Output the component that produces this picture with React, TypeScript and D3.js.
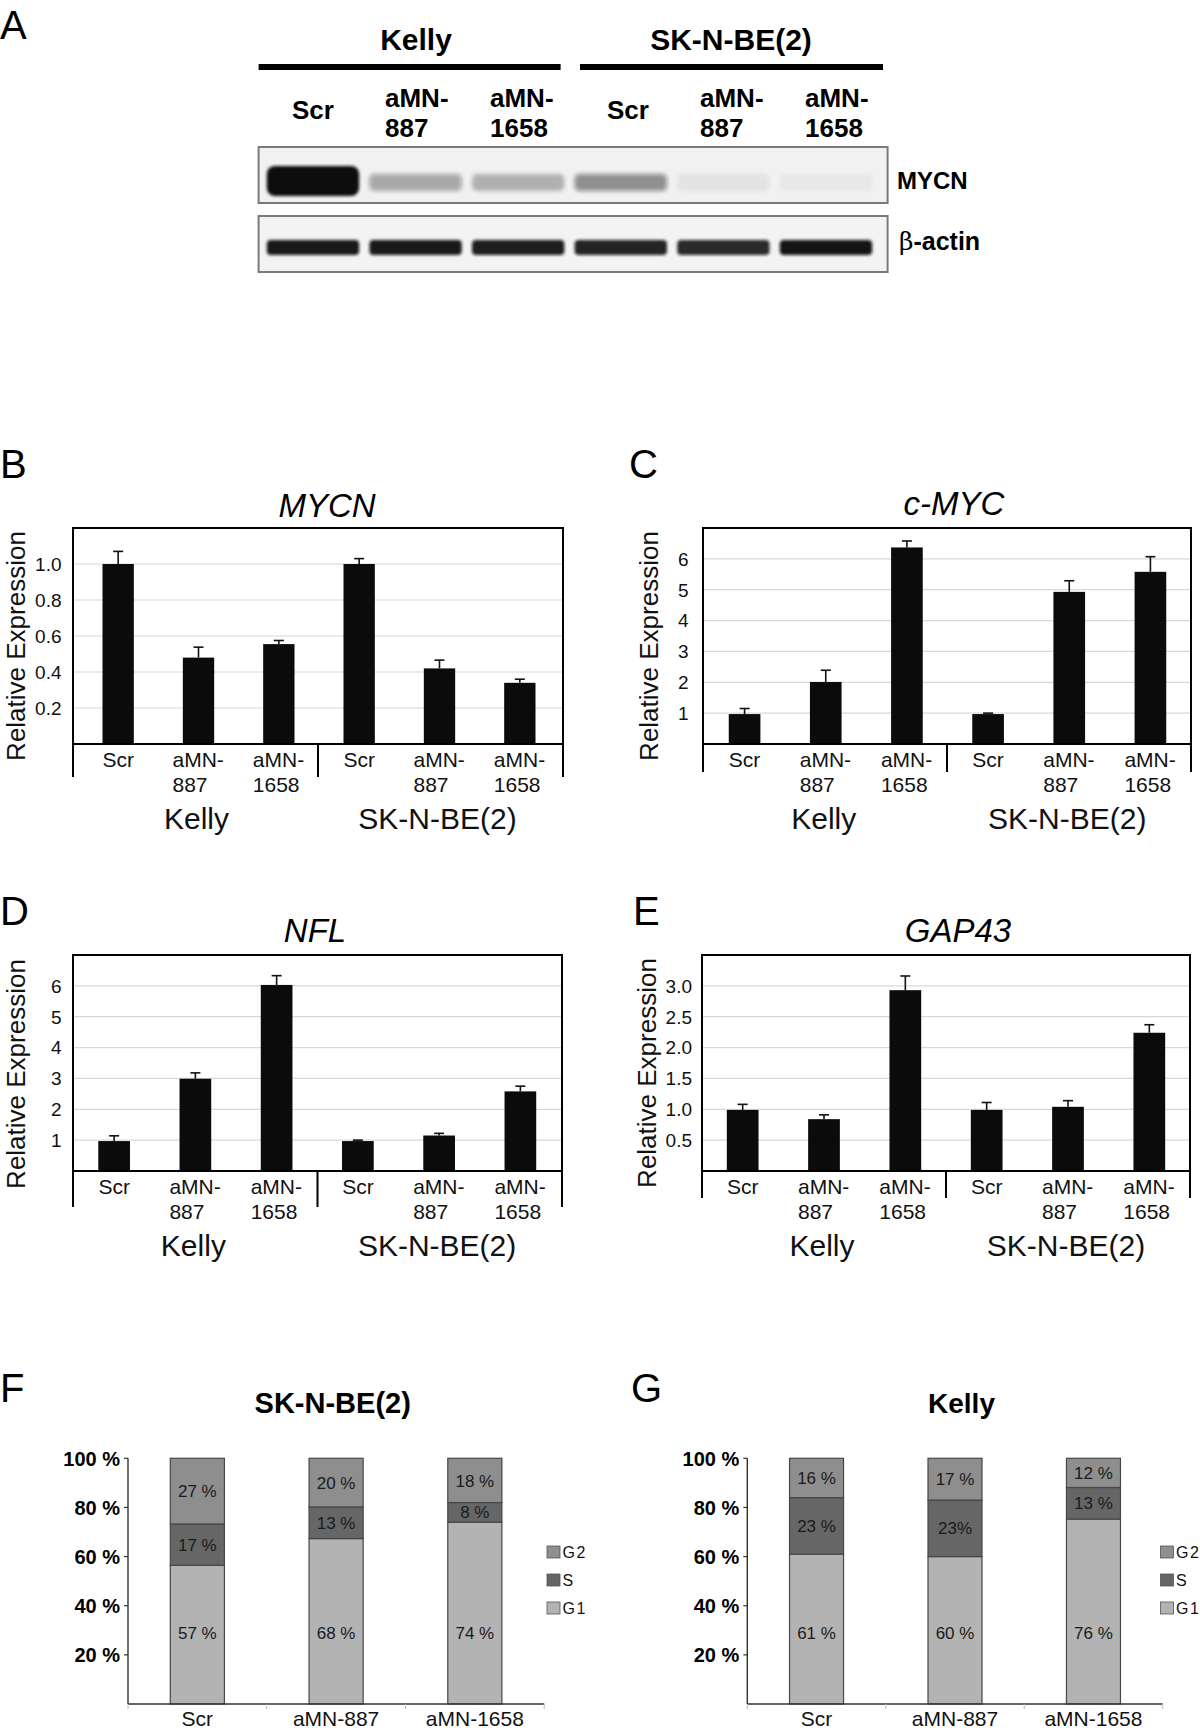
import React from "react";
import * as d3 from "d3";

const FONT = "'Liberation Sans', Arial, Helvetica, sans-serif";

// ---------- data ----------
const lanes = ["Scr", "aMN-887", "aMN-1658", "Scr", "aMN-887", "aMN-1658"];
const cellLines = ["Kelly", "SK-N-BE(2)"];
const mycnBand = [1.0, 0.34, 0.27, 0.45, 0.06, 0.04];
const actinBand = [0.95, 0.95, 0.93, 0.9, 0.88, 0.97];

const mycnMean = [1.0, 0.48, 0.555, 1.0, 0.42, 0.34];
const mycnErr = [0.07, 0.058, 0.02, 0.03, 0.046, 0.02];
const cmycMean = [0.97, 2.01, 6.37, 0.97, 4.93, 5.58];
const cmycErr = [0.18, 0.38, 0.21, 0.03, 0.36, 0.49];
const nflMean = [0.97, 2.99, 6.03, 0.97, 1.15, 2.58];
const nflErr = [0.17, 0.19, 0.3, 0.03, 0.07, 0.17];
const gap43Mean = [0.99, 0.84, 2.93, 0.99, 1.04, 2.24];
const gap43Err = [0.09, 0.07, 0.23, 0.12, 0.1, 0.13];

const mycnTicks = [0.2, 0.4, 0.6, 0.8, 1.0];
const cmycTicks = [1, 2, 3, 4, 5, 6];
const nflTicks = [1, 2, 3, 4, 5, 6];
const gap43Ticks = [0.5, 1.0, 1.5, 2.0, 2.5, 3.0];

const phaseKeys = ["G1", "S", "G2"];
const legendKeys = ["G2", "S", "G1"];
const cycleCats = ["Scr", "aMN-887", "aMN-1658"];
const skG1 = [57, 68, 74];
const skS = [17, 13, 8];
const skG2 = [27, 20, 18];
const kellyG1 = [61, 60, 76];
const kellyS = [23, 23, 13];
const kellyG2 = [16, 17, 12];
const kellySLabels = ["23 %", "23%", "13 %"];
const cycleTicks = [20, 40, 60, 80, 100];

const phaseColor: Record<string, string> = { G1: "#b3b3b3", S: "#666666", G2: "#8e8e8e" };

// ---------- blot (panel A) ----------
function Blot() {
  const lx = d3.scaleBand<number>().domain(d3.range(6)).range([262.7, 878.3]);
  const labX = d3.scaleBand<number>().domain(d3.range(6)).range([260.5, 890.5]);
  const intensity = d3.scaleLinear().domain([0, 1]).range([0, 1]);
  return (
    <g>
      <defs>
        <filter id="blur2" x="-20%" y="-50%" width="140%" height="200%">
          <feGaussianBlur stdDeviation="2.2" />
        </filter>
        <filter id="blur1" x="-20%" y="-50%" width="140%" height="200%">
          <feGaussianBlur stdDeviation="1.4" />
        </filter>
      </defs>
      <text x={0} y={39} fontSize={40} fontFamily={FONT}>A</text>
      {cellLines.map((c, gi) => (
        <g key={c}>
          <rect x={gi === 0 ? 258.6 : 580} y={64} width={gi === 0 ? 302 : 303} height={6} fill="#000" />
          <text x={(labX(gi * 3 + 1)! + labX.bandwidth() / 2) - 2} y={50} fontSize={30} fontWeight="bold" textAnchor="middle" fontFamily={FONT}>{c}</text>
        </g>
      ))}
      {lanes.map((l, i) => {
        const cx = labX(i)! + labX.bandwidth() / 2;
        const parts = l.includes("-") ? [l.split("-")[0] + "-", l.split("-")[1]] : [l];
        if (parts.length === 1)
          return <text key={i} x={cx} y={119} fontSize={26} fontWeight="bold" textAnchor="middle" fontFamily={FONT}>{l}</text>;
        return (
          <text key={i} x={cx - 33} y={107} fontSize={26} fontWeight="bold" fontFamily={FONT}>
            <tspan x={cx - 33}>{parts[0]}</tspan>
            <tspan x={cx - 33} dy={30}>{parts[1]}</tspan>
          </text>
        );
      })}
      {/* MYCN box */}
      <rect x={258.6} y={147} width={629} height={56} fill="#f1f1f1" stroke="#7a7a7a" strokeWidth={2} />
      {mycnBand.map((v, i) => {
        const x = lx(i)! + lx.bandwidth() * 0.04;
        const w = lx.bandwidth() * 0.9;
        const big = v > 0.8;
        return (
          <rect key={i} x={x} y={big ? 166 : 174} width={w} height={big ? 30 : 17} rx={big ? 8 : 5}
            fill="#111" fillOpacity={intensity(v)} filter={big ? "url(#blur1)" : "url(#blur2)"} />
        );
      })}
      <text x={897} y={189} fontSize={24} fontWeight="bold" fontFamily={FONT}>MYCN</text>
      {/* actin box */}
      <rect x={258.6} y={216} width={629} height={56} fill="#f3f3f3" stroke="#7a7a7a" strokeWidth={2} />
      {actinBand.map((v, i) => {
        const x = lx(i)! + lx.bandwidth() * 0.04;
        const w = lx.bandwidth() * 0.9;
        return (
          <rect key={i} x={x} y={240} width={w} height={15} rx={4}
            fill="#111" fillOpacity={intensity(v)} filter="url(#blur1)" />
        );
      })}
      <text x={899} y={250} fontSize={25} fontWeight="bold" fontFamily={FONT}>
        <tspan fontFamily="'DejaVu Serif', serif" fontWeight="normal">β</tspan>-actin
      </text>
    </g>
  );
}

// ---------- bar chart (panels B-E) ----------
type BarProps = {
  letter: string; letterX: number; letterY: number;
  title: string; titleX: number; titleY: number;
  frameL: number; frameR: number; top: number; axis: number; bottom: number;
  barRange: [number, number]; yMax: number; ticks: number[]; fmt: (v: number) => string;
  tickRight: number; ylabelX: number; ylabelCY: number;
  means: number[]; errs: number[];
};

function BarPanel(p: BarProps) {
  const x = d3.scaleBand<number>().domain(d3.range(lanes.length)).range(p.barRange).paddingInner(0.61).paddingOuter(0.305);
  const y = d3.scaleLinear().domain([0, p.yMax]).range([p.axis, p.top]);
  const cx = (i: number) => x(i)! + x.bandwidth() / 2;
  const mid = (p.frameL + p.frameR) / 2;
  return (
    <g fontFamily={FONT}>
      <text x={p.letterX} y={p.letterY} fontSize={40}>{p.letter}</text>
      <text x={p.titleX} y={p.titleY} fontSize={33} fontStyle="italic" textAnchor="middle">{p.title}</text>
      {p.ticks.map((t) => (
        <g key={t}>
          <line x1={p.frameL} x2={p.frameR} y1={y(t)} y2={y(t)} stroke="#d8d8d8" strokeWidth={1.2} />
          <text x={p.tickRight} y={y(t)} dy="0.36em" fontSize={19} textAnchor="end" fill="#111">{p.fmt(t)}</text>
        </g>
      ))}
      {p.means.map((m, i) => (
        <g key={i}>
          <rect x={x(i)} y={y(m)} width={x.bandwidth()} height={p.axis - y(m)} fill="#0b0b0b" />
          <line x1={cx(i)} x2={cx(i)} y1={y(m)} y2={y(m + p.errs[i])} stroke="#111" strokeWidth={1.6} />
          <line x1={cx(i) - 5} x2={cx(i) + 5} y1={y(m + p.errs[i])} y2={y(m + p.errs[i])} stroke="#111" strokeWidth={1.6} />
        </g>
      ))}
      {/* frame */}
      <path d={`M${p.frameL},${p.bottom}V${p.top}H${p.frameR}V${p.bottom}`} fill="none" stroke="#000" strokeWidth={2} />
      <line x1={p.frameL} x2={p.frameR} y1={p.axis} y2={p.axis} stroke="#000" strokeWidth={2.2} />
      <line x1={mid} x2={mid} y1={p.axis} y2={p.bottom} stroke="#000" strokeWidth={2} />
      <text transform={`translate(${p.ylabelX},${p.ylabelCY}) rotate(-90)`} fontSize={26} textAnchor="middle" fill="#111">Relative Expression</text>
      {lanes.map((l, i) => {
        const c = cx(i);
        if (!l.includes("-"))
          return <text key={i} x={c} y={p.axis + 23} fontSize={21} textAnchor="middle" fill="#111">{l}</text>;
        const [a, b] = l.split("-");
        const sx = c - 26;
        return (
          <text key={i} x={sx} y={p.axis + 23} fontSize={21} fill="#111">
            <tspan x={sx}>{a + "-"}</tspan>
            <tspan x={sx} dy={24.5}>{b}</tspan>
          </text>
        );
      })}
      {cellLines.map((c, gi) => (
        <text key={c} x={cx(gi * 3 + 1) - 2} y={p.axis + 85} fontSize={30} textAnchor="middle" fill="#111">{c}</text>
      ))}
    </g>
  );
}

// ---------- stacked chart (panels F-G) ----------
type CycleProps = {
  letter: string; letterX: number; title: string; titleX: number; titleSize: number;
  axisX: number; axisEnd: number; legendX: number;
  g1: number[]; s: number[]; g2: number[]; sLabels?: string[];
};

function CyclePanel(p: CycleProps) {
  const top = 1458.3;
  const bottom = 1704;
  const rows = cycleCats.map((c, i) => ({ cat: c, G1: p.g1[i], S: p.s[i], G2: p.g2[i] }));
  const series = d3.stack<any>().keys(phaseKeys).offset(d3.stackOffsetExpand)(rows);
  const x = d3.scaleBand<string>().domain(cycleCats).range([p.axisX, p.axisEnd]).paddingInner(0.61).paddingOuter(0.305);
  const xb = d3.scaleBand<string>().domain(cycleCats).range([p.axisX, p.axisEnd]);
  const y = d3.scaleLinear().domain([0, 1]).range([bottom, top]);
  const yt = d3.scaleLinear().domain([0, 100]).range([bottom, top]);
  const label = (key: string, i: number) => {
    if (key === "S" && p.sLabels) return p.sLabels[i];
    const v = key === "G1" ? p.g1[i] : key === "S" ? p.s[i] : p.g2[i];
    return `${v} %`;
  };
  // the bottom (G1) labels sit on a common row in the original figure
  const labelY = (key: string, d: number[]) => (key === "G1" ? y(0.29) : (y(d[0]) + y(d[1])) / 2);
  return (
    <g fontFamily={FONT}>
      <text x={p.letterX} y={1402} fontSize={40}>{p.letter}</text>
      <text x={p.titleX} y={1413} fontSize={p.titleSize} fontWeight="bold" textAnchor="middle">{p.title}</text>
      {cycleTicks.map((t) => (
        <g key={t}>
          <line x1={p.axisX - 4} x2={p.axisX} y1={yt(t)} y2={yt(t)} stroke="#333" strokeWidth={1.2} />
          <text x={p.axisX - 8} y={yt(t)} dy="0.36em" fontSize={20} fontWeight="bold" textAnchor="end">{`${t} %`}</text>
        </g>
      ))}
      {series.map((ser) => (
        <g key={ser.key}>
          {ser.map((d, i) => (
            <rect key={i} x={x(cycleCats[i])} y={y(d[1])} width={x.bandwidth()} height={y(d[0]) - y(d[1])}
              fill={phaseColor[ser.key]} stroke="#474747" strokeWidth={1.2} />
          ))}
        </g>
      ))}
      {series.map((ser) => (
        <g key={"l" + ser.key}>
          {ser.map((d, i) => (
            <text key={i} x={x(cycleCats[i])! + x.bandwidth() / 2} y={labelY(ser.key, d as any)} dy="0.36em"
              fontSize={17} textAnchor="middle" fill="#1a1a1a">{label(ser.key, i)}</text>
          ))}
        </g>
      ))}
      <line x1={p.axisX} x2={p.axisX} y1={top} y2={bottom} stroke="#333" strokeWidth={1.4} />
      <line x1={p.axisX} x2={p.axisEnd} y1={bottom} y2={bottom} stroke="#333" strokeWidth={1.4} />
      {[...cycleCats.map((c) => xb(c)!), p.axisEnd].map((v, i) => (
        <line key={i} x1={v} x2={v} y1={bottom} y2={bottom + 5} stroke="#bbb" strokeWidth={1} />
      ))}
      {cycleCats.map((c) => (
        <text key={c} x={xb(c)! + xb.bandwidth() / 2} y={1726} fontSize={21} textAnchor="middle" fill="#111">{c}</text>
      ))}
      {legendKeys.map((k, i) => (
        <g key={k}>
          <rect x={p.legendX} y={1546 + i * 28} width={13} height={12} fill={phaseColor[k]} stroke="#555" strokeWidth={0.8} />
          <text x={p.legendX + 15.5} y={1557.5 + i * 28} fontSize={16} letterSpacing={1.5} fill="#111">{k}</text>
        </g>
      ))}
    </g>
  );
}

export default function App() {
  const f1 = (v: number) => v.toFixed(1);
  const f0 = (v: number) => String(v);
  return (
    <svg width={1200} height={1734} viewBox="0 0 1200 1734"
      style={{ position: "absolute", left: 0, top: 0, background: "#fff" }}>
      <rect width={1200} height={1734} fill="#fff" />
      <Blot />
      <BarPanel letter="B" letterX={0} letterY={478} title="MYCN" titleX={327} titleY={517}
        frameL={73} frameR={563} top={528} axis={744} bottom={777} barRange={[78, 560]}
        yMax={1.2} ticks={mycnTicks} fmt={f1} tickRight={61.5} ylabelX={25} ylabelCY={646}
        means={mycnMean} errs={mycnErr} />
      <BarPanel letter="C" letterX={629} letterY={478} title="c-MYC" titleX={954} titleY={515}
        frameL={703} frameR={1191} top={528} axis={744} bottom={772} barRange={[704, 1191]}
        yMax={7} ticks={cmycTicks} fmt={f0} tickRight={688.5} ylabelX={657.5} ylabelCY={646}
        means={cmycMean} errs={cmycErr} />
      <BarPanel letter="D" letterX={0} letterY={925} title="NFL" titleX={315} titleY={942}
        frameL={73} frameR={562} top={955} axis={1171} bottom={1207} barRange={[73.5, 561]}
        yMax={7} ticks={nflTicks} fmt={f0} tickRight={61.5} ylabelX={25} ylabelCY={1074}
        means={nflMean} errs={nflErr} />
      <BarPanel letter="E" letterX={633} letterY={925} title="GAP43" titleX={958} titleY={942}
        frameL={702} frameR={1190} top={955} axis={1171} bottom={1198} barRange={[702, 1190]}
        yMax={3.5} ticks={gap43Ticks} fmt={f1} tickRight={692} ylabelX={656} ylabelCY={1073}
        means={gap43Mean} errs={gap43Err} />
      <CyclePanel letter="F" letterX={0} title="SK-N-BE(2)" titleX={332.7} titleSize={29} axisX={128} axisEnd={544.2}
        legendX={547} g1={skG1} s={skS} g2={skG2} />
      <CyclePanel letter="G" letterX={631} title="Kelly" titleX={961.5} titleSize={28} axisX={747.3} axisEnd={1162.7}
        legendX={1160.5} g1={kellyG1} s={kellyS} g2={kellyG2} sLabels={kellySLabels} />
    </svg>
  );
}
